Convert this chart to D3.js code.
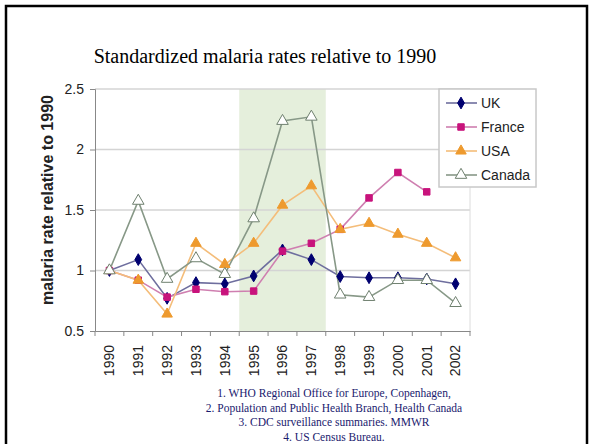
<!DOCTYPE html>
<html lang="en">
<head>
  <meta charset="UTF-8" />
  <title>Standardized malaria rates relative to 1990</title>
  <script src="https://d3js.org/d3.v7.min.js"></script>
  <style>
    body { margin: 0; background: #fff; }
    svg { display: block; }
    .axis text { font-family: Arial, "Liberation Sans", sans-serif; font-size: 14px; fill: #222; }
  </style>
</head>
<body>
  <svg width="592" height="444"></svg>
  <script>
    const years = ["1990", "1991", "1992", "1993", "1994", "1995", "1996", "1997", "1998", "1999", "2000", "2001", "2002"];
    const uk = [1.0, 1.09, 0.77, 0.9, 0.89, 0.955, 1.17, 1.09, 0.95, 0.94, 0.94, 0.93, 0.89];
    const france = [1.0, 0.92, 0.78, 0.845, 0.825, 0.83, 1.16, 1.225, 1.34, 1.6, 1.81, 1.65, null];
    const usa = [1.0, 0.92, 0.64, 1.225, 1.05, 1.225, 1.54, 1.7, 1.34, 1.39, 1.3, 1.225, 1.105];
    const canada = [1.0, 1.575, 0.93, 1.1, 0.97, 1.43, 2.235, 2.27, 0.8, 0.78, 0.92, 0.92, 0.73];
    const yTicks = [0.5, 1, 1.5, 2, 2.5];
    const shadedYears = ["1995", "1996", "1997"];
    const footnotes = [
      "1. WHO Regional Office for Europe, Copenhagen,",
      "2. Population and Public Health Branch, Health Canada",
      "3. CDC surveillance summaries. MMWR",
      "4. US Census Bureau."
    ];

    const series = [
      { name: "UK", values: uk, line: "#6e6e9e", fill: "#000070", stroke: "#000070", shape: d3.symbolDiamond, size: 40 },
      { name: "France", values: france, line: "#cf7fb0", fill: "#c8137c", stroke: "#c8137c", shape: d3.symbolSquare, size: 42 },
      { name: "USA", values: usa, line: "#f4bd7a", fill: "#ee9a2e", stroke: "#ee9a2e", shape: d3.symbolTriangle, size: 48 },
      { name: "Canada", values: canada, line: "#879887", fill: "#fff", stroke: "#6f806f", shape: d3.symbolTriangle, size: 58 }
    ];

    const svg = d3.select("svg");
    const plot = { left: 95, right: 470, top: 89, bottom: 331 };

    // outer frame
    svg.append("rect")
      .attr("x", 6).attr("y", 6)
      .attr("width", 581).attr("height", 444)
      .attr("fill", "none").attr("stroke", "#000").attr("stroke-width", 2.5);

    svg.append("text")
      .attr("x", 265).attr("y", 63)
      .attr("text-anchor", "middle")
      .style("font-family", "'Liberation Serif', 'Times New Roman', serif")
      .style("font-size", "20px")
      .text("Standardized malaria rates relative to 1990");

    const x = d3.scaleBand().domain(years).range([plot.left, plot.right]);
    const y = d3.scaleLinear().domain([0.5, 2.5]).range([plot.bottom, plot.top]);

    // shaded period
    svg.append("rect")
      .attr("x", x(shadedYears[0]))
      .attr("y", plot.top)
      .attr("width", x.bandwidth() * shadedYears.length)
      .attr("height", plot.bottom - plot.top)
      .attr("fill", "#e5efdc");

    // gridlines
    svg.append("g")
      .selectAll("line")
      .data(yTicks.slice(1))
      .join("line")
      .attr("x1", plot.left).attr("x2", plot.right)
      .attr("y1", d => y(d)).attr("y2", d => y(d))
      .attr("stroke", "#d4d4d4").attr("stroke-width", 1.5);

    svg.append("line")
      .attr("x1", plot.right).attr("x2", plot.right)
      .attr("y1", plot.top).attr("y2", plot.bottom)
      .attr("stroke", "#dcdcdc");

    // axes
    const yAxis = svg.append("g")
      .attr("class", "axis")
      .attr("transform", `translate(${plot.left},0)`)
      .call(d3.axisLeft(y).tickValues(yTicks).tickFormat(d3.format("")).tickSize(5).tickPadding(6));
    yAxis.select(".domain").attr("stroke", "#888");
    yAxis.selectAll(".tick line").attr("stroke", "#888");

    const xAxis = svg.append("g")
      .attr("class", "axis")
      .attr("transform", `translate(0,${plot.bottom})`)
      .call(d3.axisBottom(x).tickSize(0).tickSizeOuter(0));
    xAxis.select(".domain").attr("stroke", "#888");
    xAxis.selectAll(".tick text")
      .attr("transform", "rotate(-90)")
      .attr("text-anchor", "end")
      .attr("x", -14)
      .attr("y", 0)
      .attr("dy", "0.35em");
    xAxis.selectAll(".tick-mark")
      .data(years.concat(["end"]))
      .join("line")
      .attr("x1", (d, i) => plot.left + i * x.bandwidth())
      .attr("x2", (d, i) => plot.left + i * x.bandwidth())
      .attr("y1", 0).attr("y2", 5)
      .attr("stroke", "#888");

    svg.append("text")
      .attr("transform", "translate(53,200) rotate(-90)")
      .attr("text-anchor", "middle")
      .style("font-family", "Arial, 'Liberation Sans', sans-serif")
      .style("font-size", "16px")
      .style("font-weight", "bold")
      .style("fill", "#222")
      .text("malaria rate relative to 1990");

    // series
    const cx = i => x(years[i]) + x.bandwidth() / 2;
    const line = d3.line()
      .defined(d => d != null)
      .x((d, i) => cx(i))
      .y(d => y(d));

    series.forEach(s => {
      svg.append("path")
        .datum(s.values)
        .attr("d", line)
        .attr("fill", "none")
        .attr("stroke", s.line)
        .attr("stroke-width", 1.6);
    });
    series.forEach(s => {
      svg.append("g")
        .selectAll("path")
        .data(s.values.map((v, i) => ({ v, i })).filter(d => d.v != null))
        .join("path")
        .attr("transform", d => `translate(${cx(d.i)},${y(d.v)})`)
        .attr("d", d3.symbol().type(s.shape).size(s.size))
        .attr("fill", s.fill)
        .attr("stroke", s.stroke)
        .attr("stroke-width", 1);
    });

    // legend
    const legend = svg.append("g").attr("transform", "translate(439,89)");
    legend.append("rect")
      .attr("width", 97).attr("height", 98)
      .attr("fill", "#fff").attr("stroke", "#c8c8c8").attr("stroke-width", 1.5);
    series.forEach((s, i) => {
      const g = legend.append("g").attr("transform", `translate(0,${14 + i * 24})`);
      g.append("line")
        .attr("x1", 7).attr("x2", 38)
        .attr("stroke", s.line).attr("stroke-width", 1.6);
      g.append("path")
        .attr("transform", "translate(22,0)")
        .attr("d", d3.symbol().type(s.shape).size(s.size))
        .attr("fill", s.fill).attr("stroke", s.stroke);
      g.append("text")
        .attr("x", 42).attr("dy", "0.36em")
        .style("font-family", "Arial, 'Liberation Sans', sans-serif")
        .style("font-size", "14px")
        .style("fill", "#222")
        .text(s.name);
    });

    // sources
    svg.append("g")
      .selectAll("text")
      .data(footnotes)
      .join("text")
      .attr("x", 334)
      .attr("y", (d, i) => 397 + i * 14.5)
      .attr("text-anchor", "middle")
      .style("font-family", "'Liberation Serif', 'Times New Roman', serif")
      .style("font-size", "11.5px")
      .style("fill", "#1a1a6e")
      .text(d => d);
  </script>
</body>
</html>
